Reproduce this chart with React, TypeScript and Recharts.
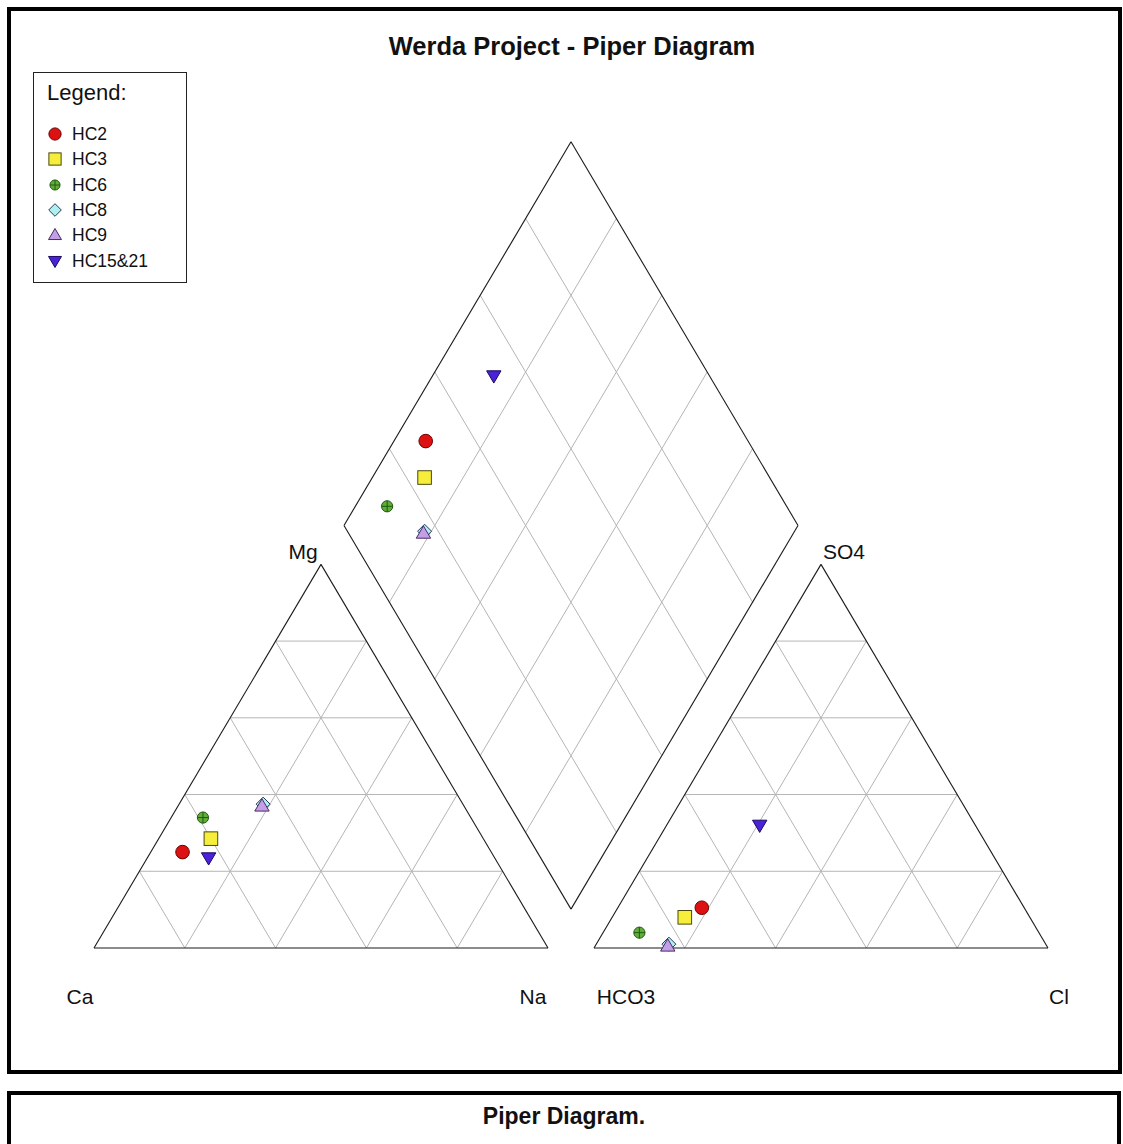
import { ScatterChart, Scatter, XAxis, YAxis, ReferenceLine, Legend } from "recharts";

// samples, % of meq
const sampleNames = ["HC2", "HC3", "HC6", "HC8", "HC9", "HC15&21"];
const caPct = [68, 60, 59, 44, 44.5, 63];
const mgPct = [25, 28.5, 34, 37.5, 37, 23.5];
const naPct = [7, 11.5, 7, 18.5, 18.5, 13.5];
const hco3Pct = [71, 76, 88, 83, 83.5, 47.5];
const so4Pct = [10.5, 8, 4, 1, 0.5, 32];
const clPct = [18.5, 16, 8, 16, 16, 20.5];
const gridSteps = [20, 40, 60, 80];

const markerKinds = ["circle", "square", "crossCircle", "diamond", "triangle", "triangleDown"];

// geometry (triangle side = 100 units)
const H = Math.sqrt(3) / 2;
const GAP = 10.13;
const ANION_X0 = 100 + GAP;
const DIAMOND_BOTTOM = { x: 100 + GAP / 2, y: GAP * H };

const cationPos = (ca: number, mg: number, na: number) => ({ x: na + mg / 2, y: mg * H });
const anionPos = (hco3: number, so4: number, cl: number) => ({ x: ANION_X0 + cl + so4 / 2, y: so4 * H });
const diamondPos = (caMg: number, so4Cl: number) => ({
  x: DIAMOND_BOTTOM.x + (so4Cl - caMg) / 2,
  y: DIAMOND_BOTTOM.y + (caMg + so4Cl) * H,
});

type P = { x: number; y: number };

function triangleSegments(pos: (a: number, b: number, c: number) => P) {
  const outline: [P, P][] = [
    [pos(100, 0, 0), pos(0, 0, 100)],
    [pos(0, 0, 100), pos(0, 100, 0)],
    [pos(0, 100, 0), pos(100, 0, 0)],
  ];
  const grid: [P, P][] = [];
  gridSteps.forEach((t) => {
    grid.push([pos(100 - t, t, 0), pos(0, t, 100 - t)]);
    grid.push([pos(100 - t, 0, t), pos(0, 100 - t, t)]);
    grid.push([pos(t, 0, 100 - t), pos(t, 100 - t, 0)]);
  });
  return { outline, grid };
}

const cationTri = triangleSegments(cationPos);
const anionTri = triangleSegments(anionPos);
const diamondOutline: [P, P][] = [
  [diamondPos(0, 0), diamondPos(100, 0)],
  [diamondPos(100, 0), diamondPos(100, 100)],
  [diamondPos(100, 100), diamondPos(0, 100)],
  [diamondPos(0, 100), diamondPos(0, 0)],
];
const diamondGrid: [P, P][] = [];
gridSteps.forEach((t) => {
  diamondGrid.push([diamondPos(t, 0), diamondPos(t, 100)]);
  diamondGrid.push([diamondPos(0, t), diamondPos(100, t)]);
});

const gridLines = [...cationTri.grid, ...anionTri.grid, ...diamondGrid];
const outlineLines = [...cationTri.outline, ...anionTri.outline, ...diamondOutline];

const sampleData = sampleNames.map((name, i) => [
  { ...cationPos(caPct[i], mgPct[i], naPct[i]), name },
  { ...anionPos(hco3Pct[i], so4Pct[i], clPct[i]), name },
  { ...diamondPos(caPct[i] + mgPct[i], so4Pct[i] + clPct[i]), name },
]);

// page layout
const CHART_LEFT = 11;
const CHART_TOP = 11;
const CHART_W = 1107;
const CHART_H = 1060;
const ORIGIN_X = 94;
const ORIGIN_Y = 948;
const SX = 4.54;
const SY = 4.43;
const xMin = -(ORIGIN_X - CHART_LEFT) / SX;
const yMax = (ORIGIN_Y - CHART_TOP) / SY;
const xDomain = [xMin, xMin + CHART_W / SX];
const yDomain = [yMax - CHART_H / SY, yMax];

const FONT = "'Liberation Sans', Arial, Helvetica, sans-serif";

function Marker({ kind, cx, cy, s = 1 }: { kind: string; cx: number; cy: number; s?: number }) {
  switch (kind) {
    case "circle":
      return <circle cx={cx} cy={cy} r={6.8 * s} fill="#dd1111" stroke="#6a0000" strokeWidth={1} />;
    case "square":
      return (
        <rect x={cx - 6.8 * s} y={cy - 6.8 * s} width={13.6 * s} height={13.6 * s} fill="#f6ee3a" stroke="#4a4a10" strokeWidth={1} />
      );
    case "crossCircle": {
      const r = 5.6 * s;
      return (
        <g>
          <circle cx={cx} cy={cy} r={r} fill="#62ad38" stroke="#1f5a10" strokeWidth={1} />
          <line x1={cx - r} y1={cy} x2={cx + r} y2={cy} stroke="#1f5a10" strokeWidth={1} />
          <line x1={cx} y1={cy - r} x2={cx} y2={cy + r} stroke="#1f5a10" strokeWidth={1} />
        </g>
      );
    }
    case "diamond": {
      const d = 7 * s;
      return (
        <polygon
          points={`${cx},${cy - d} ${cx + d},${cy} ${cx},${cy + d} ${cx - d},${cy}`}
          fill="#aef0f0"
          stroke="#2a3a5a"
          strokeWidth={1}
        />
      );
    }
    case "triangle": {
      const d = 7.2 * s;
      return (
        <polygon
          points={`${cx},${cy - d} ${cx + d},${cy + d * 0.7} ${cx - d},${cy + d * 0.7}`}
          fill="#c3a0e6"
          stroke="#4a2a6a"
          strokeWidth={1}
        />
      );
    }
    default: {
      const d = 7.2 * s;
      return (
        <polygon
          points={`${cx - d},${cy - d * 0.7} ${cx + d},${cy - d * 0.7} ${cx},${cy + d}`}
          fill="#4a22d8"
          stroke="#1a0a60"
          strokeWidth={1}
        />
      );
    }
  }
}

function LegendBox() {
  const rowY = [133, 158, 184, 209, 234, 260].map((y) => y - 72);
  return (
    <div
      style={{
        position: "relative",
        width: 154,
        height: 211,
        boxSizing: "border-box",
        border: "1px solid #222",
        background: "#fff",
        fontFamily: FONT,
      }}
    >
      <div style={{ position: "absolute", left: 13, top: 8, fontSize: 22, lineHeight: "24px", color: "#111" }}>Legend:</div>
      {sampleNames.map((name, i) => (
        <div key={name}>
          <svg style={{ position: "absolute", left: 13, top: rowY[i] - 8 }} width={16} height={16}>
            <Marker kind={markerKinds[i]} cx={8} cy={8} s={0.9} />
          </svg>
          <div style={{ position: "absolute", left: 38, top: rowY[i] - 10, fontSize: 17.5, lineHeight: "20px", color: "#111" }}>
            {name}
          </div>
        </div>
      ))}
    </div>
  );
}

const axisLabels = [
  { text: "Mg", x: 303, y: 552 },
  { text: "SO4", x: 844, y: 552 },
  { text: "Ca", x: 80, y: 997 },
  { text: "Na", x: 533, y: 997 },
  { text: "HCO3", x: 626, y: 997 },
  { text: "Cl", x: 1059, y: 997 },
];

export default function App() {
  return (
    <div style={{ position: "absolute", left: 0, top: 0, width: 1123, height: 1144, overflow: "hidden", background: "#fff", fontFamily: FONT }}>
      <div
        style={{
          position: "absolute",
          left: 7,
          top: 7,
          width: 1115,
          height: 1067,
          boxSizing: "border-box",
          border: "4px solid #000",
        }}
      />
      <div
        style={{
          position: "absolute",
          left: 7,
          top: 31,
          width: 1130,
          textAlign: "center",
          fontSize: 25.5,
          lineHeight: "30px",
          fontWeight: "bold",
          color: "#111",
        }}
      >
        Werda Project - Piper Diagram
      </div>
      {axisLabels.map((l) => (
        <div
          key={l.text}
          style={{
            position: "absolute",
            left: l.x - 40,
            top: l.y - 12,
            width: 80,
            textAlign: "center",
            fontSize: 21,
            lineHeight: "24px",
            color: "#111",
          }}
        >
          {l.text}
        </div>
      ))}
      <div style={{ position: "absolute", left: CHART_LEFT, top: CHART_TOP }}>
        <ScatterChart width={CHART_W} height={CHART_H} margin={{ top: 0, right: 0, bottom: 0, left: 0 }}>
          <XAxis type="number" dataKey="x" domain={xDomain} hide allowDataOverflow />
          <YAxis type="number" dataKey="y" domain={yDomain} hide allowDataOverflow />
          {gridLines.map((seg, i) => (
            <ReferenceLine key={`g${i}`} segment={seg} stroke="#b5b5b5" strokeWidth={1} ifOverflow="visible" />
          ))}
          {outlineLines.map((seg, i) => (
            <ReferenceLine key={`o${i}`} segment={seg} stroke="#1a1a1a" strokeWidth={1.1} ifOverflow="visible" />
          ))}
          {sampleNames.map((name, i) => (
            <Scatter
              key={name}
              name={name}
              data={sampleData[i]}
              isAnimationActive={false}
              shape={(props: any) => <Marker kind={markerKinds[i]} cx={props.cx} cy={props.cy} />}
            />
          ))}
          <Legend
            layout="horizontal"
            verticalAlign="middle"
            align="center"
            wrapperStyle={{ left: 33 - CHART_LEFT, top: 72 - CHART_TOP, width: 154, height: 211 }}
            content={() => <LegendBox />}
          />
        </ScatterChart>
      </div>
      <div
        style={{
          position: "absolute",
          left: 7,
          top: 1091,
          width: 1114,
          height: 80,
          boxSizing: "border-box",
          border: "4px solid #000",
        }}
      />
      <div
        style={{
          position: "absolute",
          left: 7,
          top: 1103,
          width: 1114,
          textAlign: "center",
          fontSize: 23,
          lineHeight: "26px",
          fontWeight: "bold",
          color: "#111",
        }}
      >
        Piper Diagram.
      </div>
    </div>
  );
}
